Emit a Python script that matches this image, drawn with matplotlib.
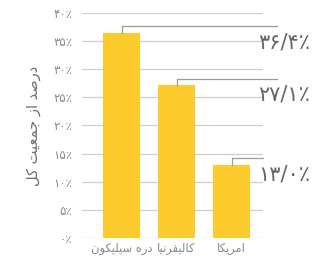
import matplotlib
matplotlib.use("Agg")
from matplotlib import pyplot as plt

plt.rcParams['font.family'] = ['DejaVu Sans']

# data
categories = ["دره سیلیکون", "کالیفرنیا", "امریکا"]
values = [36.4, 27.1, 13.0]
yticks = [0, 5, 10, 15, 20, 25, 30, 35, 40]
ylabel = "درصد از جمعیت کل"

# arabic letter forms: isolated, final, initial, medial
FORMS = {
    'ا': ('\uFE8D', '\uFE8E', None, None),
    'د': ('\uFEA9', '\uFEAA', None, None),
    'ر': ('\uFEAD', '\uFEAE', None, None),
    'ز': ('\uFEAF', '\uFEB0', None, None),
    'و': ('\uFEED', '\uFEEE', None, None),
    'ص': ('\uFEB9', '\uFEBA', '\uFEBB', '\uFEBC'),
    'ج': ('\uFE9D', '\uFE9E', '\uFE9F', '\uFEA0'),
    'م': ('\uFEE1', '\uFEE2', '\uFEE3', '\uFEE4'),
    'ع': ('\uFEC9', '\uFECA', '\uFECB', '\uFECC'),
    'ت': ('\uFE95', '\uFE96', '\uFE97', '\uFE98'),
    'ل': ('\uFEDD', '\uFEDE', '\uFEDF', '\uFEE0'),
    'ف': ('\uFED1', '\uFED2', '\uFED3', '\uFED4'),
    'ن': ('\uFEE5', '\uFEE6', '\uFEE7', '\uFEE8'),
    'ه': ('\uFEE9', '\uFEEA', '\uFEEB', '\uFEEC'),
    'س': ('\uFEB1', '\uFEB2', '\uFEB3', '\uFEB4'),
    'ی': ('\uFBFC', '\uFBFD', '\uFBFE', '\uFBFF'),
    'ک': ('\uFB8E', '\uFB8F', '\uFB90', '\uFB91'),
}


def joins_left(c):
    return c in FORMS and FORMS[c][2] is not None


def shape(s):
    # matplotlib has no arabic shaping, so pick the glyph forms and reverse
    out = []
    i = 0
    while i < len(s):
        c = s[i]
        if c not in FORMS:
            out.append(c)
            i += 1
            continue
        p = i > 0 and joins_left(s[i - 1])
        if c == 'ل' and i + 1 < len(s) and s[i + 1] == 'ا':
            out.append('\uFEFC' if p else '\uFEFB')
            i += 2
            continue
        nx = i + 1 < len(s) and s[i + 1] in FORMS and joins_left(c)
        iso, fin, ini, med = FORMS[c]
        if p and nx:
            out.append(med)
        elif p:
            out.append(fin)
        elif nx:
            out.append(ini)
        else:
            out.append(iso)
        i += 1
    return ''.join(reversed(out))


fa_digits = str.maketrans("0123456789", "۰۱۲۳۴۵۶۷۸۹")


def fa_pct(v, fmt="{:.0f}"):
    return fmt.format(v).replace('.', '/').translate(fa_digits) + '٪'


bar_color = "#FCCB2E"
grid_color = "#cfcfcf"
line_color = "#9c9c9c"
text_color = "#8a8a8a"

fig = plt.figure(figsize=(3.19, 2.63), dpi=100)
ax = fig.add_axes([0.257, 0.095, 0.567, 0.856])

x = list(range(len(values)))
ax.bar(x, values, width=0.67, color=bar_color, zorder=3)

ax.set_ylim(0, 40)
ax.set_xlim(-0.72, 2.57)
ax.set_yticks(yticks)
ax.set_yticklabels([fa_pct(t) for t in yticks])
ax.set_xticks(x)
ax.set_xticklabels([shape(c) for c in categories])
ax.tick_params(axis='both', length=0, colors=text_color)
ax.tick_params(axis='y', labelsize=8.5, pad=7)
ax.tick_params(axis='x', labelsize=8.3, pad=3)
for s in ax.spines.values():
    s.set_visible(False)
ax.yaxis.grid(True, color=grid_color, linewidth=0.9, zorder=0)

ax.set_ylabel(shape(ylabel), color="#707070", fontsize=10.5, labelpad=9)

# callout lines and labels
line_ends = [2.82, 2.82, 2.57]
for i, v in enumerate(values):
    top = v + 1.2
    ax.plot([i, i, line_ends[i]], [v, top, top], color=line_color,
            linewidth=0.9, clip_on=False, zorder=4)
    ax.text(2.49, v - 1.65, fa_pct(v, "{:.1f}"), fontsize=15,
            color="#666666", va='center', ha='left', clip_on=False)

plt.savefig("out.png", dpi=100)
